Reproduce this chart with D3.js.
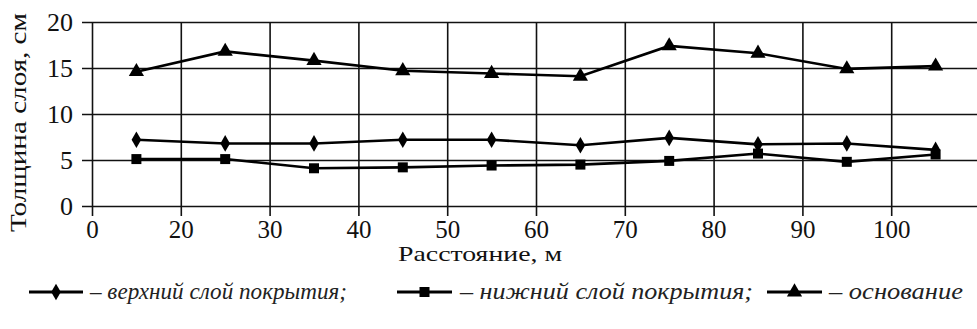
<!DOCTYPE html>
<html>
<head>
<meta charset="utf-8">
<script src="https://cdn.jsdelivr.net/npm/d3@7"></script>
<style>
    body { margin: 0; background: #fff; }
    svg { display: block; }
</style>
</head>
<body>
<svg id="chart" width="977" height="329"></svg>
<script>
// distance along the road, m
const distances = [15, 25, 35, 45, 55, 65, 75, 85, 95, 105];
const upperLayer = [7.2, 6.8, 6.8, 7.2, 7.2, 6.6, 7.4, 6.7, 6.8, 6.1];
const lowerLayer = [5.1, 5.1, 4.1, 4.2, 4.4, 4.5, 4.9, 5.7, 4.8, 5.6];
const baseLayer = [14.6, 16.8, 15.8, 14.7, 14.4, 14.1, 17.4, 16.6, 14.9, 15.2];

const xTicks = [10, 20, 30, 40, 50, 60, 70, 80, 90, 100];
const xTickLabels = ["0", "20", "30", "40", "50", "60", "70", "80", "90", "100"];
const yTicks = [0, 5, 10, 15, 20];

const seriesNames = ["верхний слой покрытия;", "нижний слой покрытия;", "основание"];

const serif = "'Liberation Serif', 'Times New Roman', serif";
const svg = d3.select("#chart");

const x = d3.scaleLinear().domain([10, 110]).range([92, 980]);
const y = d3.scaleLinear().domain([0, 20]).range([206, 22]);

// horizontal grid + y axis
const yAxis = d3.axisLeft(y)
    .tickValues(yTicks)
    .tickSize(-(980 - 82))
    .tickPadding(8)
    .tickFormat(d3.format("d"));

svg.append("g")
    .attr("transform", "translate(82,0)")
    .call(yAxis)
    .attr("font-family", serif)
    .attr("font-size", 26)
    .call(g => g.select(".domain").remove())
    .call(g => g.selectAll("line").attr("stroke", "#111").attr("stroke-width", 1.6))
    .call(g => g.selectAll("text")
        .style("font-family", serif)
        .attr("fill", "#111")
        .attr("x", -9)
        .attr("dy", "0.34em"));

// vertical grid + x axis
const xAxis = d3.axisBottom(x)
    .tickValues(xTicks)
    .tickSize(-(206 - 22) - 10)
    .tickPadding(4)
    .tickFormat((d, i) => xTickLabels[i]);

svg.append("g")
    .attr("transform", "translate(0,216)")
    .call(xAxis)
    .attr("font-family", serif)
    .attr("font-size", 25)
    .call(g => g.select(".domain").remove())
    .call(g => g.selectAll("line").attr("stroke", "#111").attr("stroke-width", 1.6))
    .call(g => g.selectAll("text")
        .style("font-family", serif)
        .attr("fill", "#111")
        .attr("dy", "0.72em"));

// axis titles
svg.append("text")
    .attr("x", 398)
    .attr("y", 261)
    .style("font-family", serif)
    .attr("fill", "#111")
    .attr("font-size", 22)
    .attr("textLength", 164)
    .attr("lengthAdjust", "spacingAndGlyphs")
    .text("Расстояние, м");

svg.append("text")
    .attr("transform", "translate(26,232) rotate(-90)")
    .style("font-family", serif)
    .attr("fill", "#111")
    .attr("font-size", 23)
    .attr("textLength", 219)
    .attr("lengthAdjust", "spacingAndGlyphs")
    .text("Толщина слоя, см");

const line = d3.line()
    .x((d, i) => x(distances[i]))
    .y(d => y(d));

const symbols = [
    d3.symbol().type(d3.symbolDiamond).size(80),
    d3.symbol().type(d3.symbolSquare).size(100),
    d3.symbol().type(d3.symbolTriangle).size(100)
];

[upperLayer, lowerLayer, baseLayer].forEach((values, s) => {
    const g = svg.append("g");
    g.append("path")
        .datum(values)
        .attr("fill", "none")
        .attr("stroke", "#000")
        .attr("stroke-width", 2.6)
        .attr("d", line);
    g.selectAll("path.marker")
        .data(values)
        .enter().append("path")
        .attr("class", "marker")
        .attr("fill", "#000")
        .attr("transform", (d, i) => `translate(${x(distances[i])},${y(d)})`)
        .attr("d", symbols[s]);
});

// legend
const legendItems = [
    {x1: 29, x2: 83, tx: 90, len: 257},
    {x1: 397, x2: 452, tx: 460, len: 293},
    {x1: 767, x2: 822, tx: 829, len: 134}
];
const legendY = 292;

legendItems.forEach((item, s) => {
    const g = svg.append("g");
    g.append("line")
        .attr("x1", item.x1).attr("x2", item.x2)
        .attr("y1", legendY).attr("y2", legendY)
        .attr("stroke", "#000")
        .attr("stroke-width", 3.2);
    g.append("path")
        .attr("fill", "#000")
        .attr("transform", `translate(${(item.x1 + item.x2) / 2},${legendY})`)
        .attr("d", symbols[s]);
    g.append("text")
        .attr("x", item.tx)
        .attr("y", legendY + 7)
        .style("font-family", serif)
        .attr("fill", "#222")
        .attr("font-size", 23)
        .attr("font-style", "italic")
        .attr("textLength", item.len)
        .attr("lengthAdjust", "spacingAndGlyphs")
        .text("– " + seriesNames[s]);
});
</script>
</body>
</html>
